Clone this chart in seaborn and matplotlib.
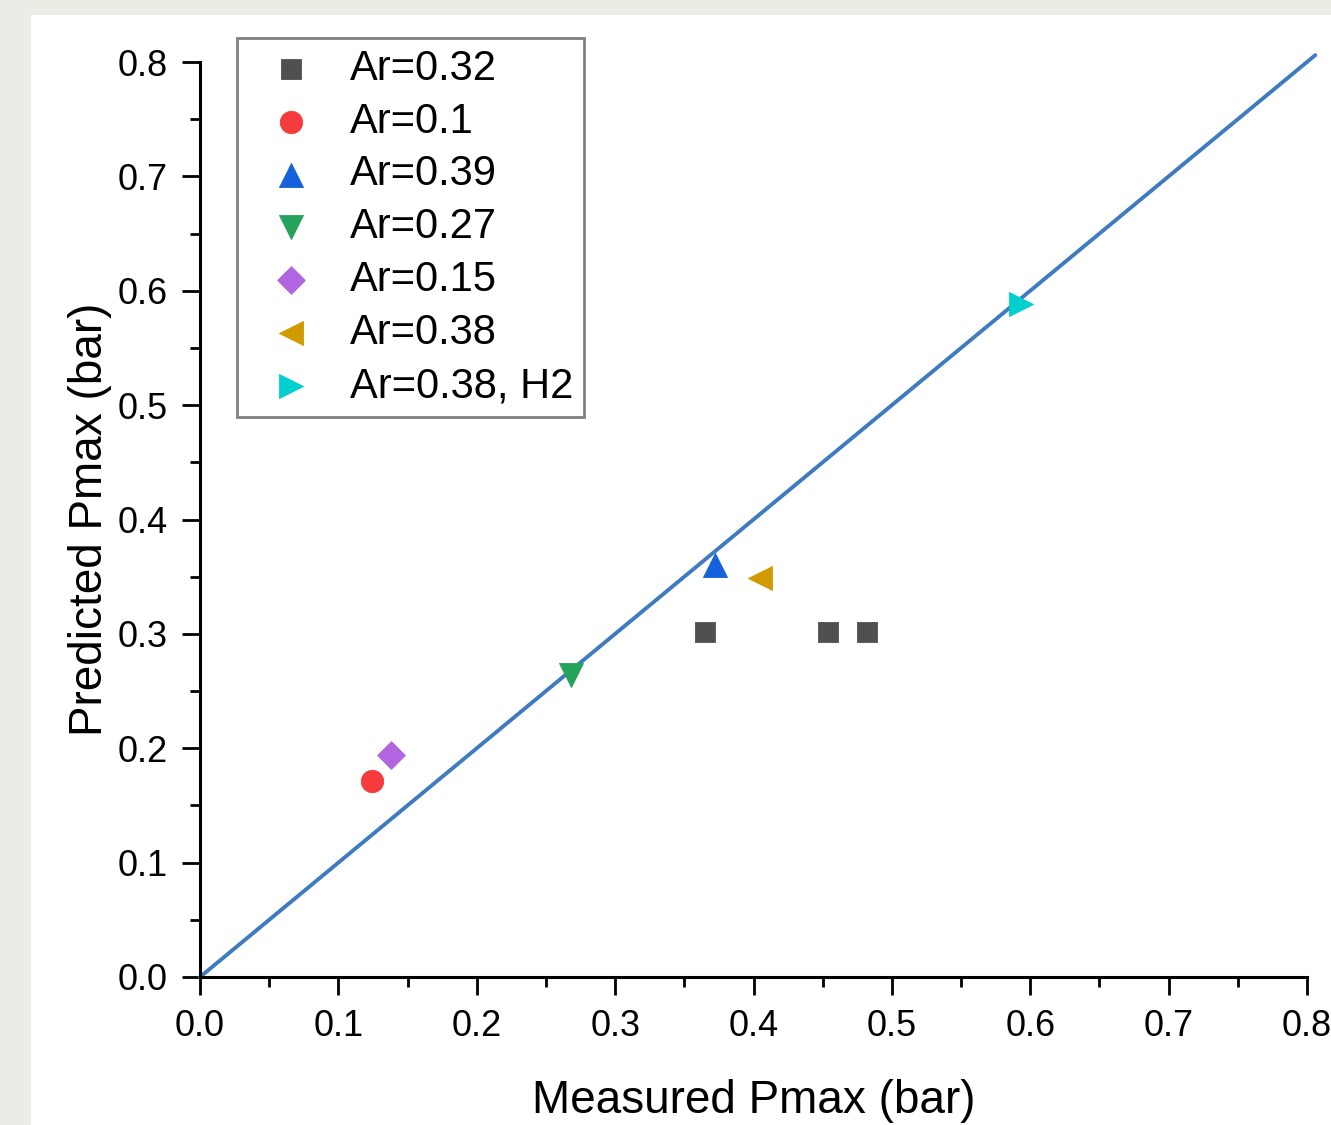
import matplotlib
matplotlib.use("Agg")
import matplotlib.pyplot as plt
from matplotlib.patches import Rectangle
from matplotlib.ticker import MultipleLocator
import seaborn as sns

# Measured vs predicted peak pressure per mixture
labels = ["Ar=0.32", "Ar=0.1", "Ar=0.39", "Ar=0.27", "Ar=0.15", "Ar=0.38", "Ar=0.38, H2"]
measured = [
    [0.365, 0.454, 0.482],
    [0.124],
    [0.372],
    [0.268],
    [0.138],
    [0.405],
    [0.593],
]
predicted = [
    [0.302, 0.302, 0.302],
    [0.171],
    [0.360],
    [0.264],
    [0.194],
    [0.349],
    [0.588],
]
diag = [0.0, 0.806]

markers = ["s", "o", "^", "v", "D", "<", ">"]
colors = ["#505050", "#f53b3b", "#1560dc", "#25a35a", "#b266e0", "#d09b00", "#00cfcf"]
sizes = [210, 260, 300, 300, 200, 300, 300]

sns.set_style("ticks")
plt.rcParams["font.family"] = ["Liberation Sans", "DejaVu Sans"]
plt.rcParams["text.color"] = "black"
plt.rcParams["axes.labelcolor"] = "black"

fig = plt.figure(figsize=(13.31, 11.25), dpi=100)
fig.patch.set_facecolor("#ecebe6")
panel = Rectangle((31 / 1331, 0), 1.0, 1 - 15 / 1125,
                  transform=fig.transFigure, facecolor="white",
                  edgecolor="none", zorder=-10)
fig.patches.append(panel)
ax = fig.add_axes([200 / 1331, 148 / 1125, 1107 / 1331, 915 / 1125])
ax.set_facecolor("none")

sns.lineplot(x=diag, y=diag, ax=ax, color="#3f7bc1", linewidth=2.8,
             clip_on=False, zorder=2)

for lab, xs, ys, m, c, s in zip(labels, measured, predicted, markers, colors, sizes):
    sns.scatterplot(x=xs, y=ys, ax=ax, marker=m, color=c, s=s, label=lab,
                    edgecolor=c, linewidth=0.6, zorder=3, clip_on=False)

ax.set_xlim(0, 0.8)
ax.set_ylim(0, 0.8)
ax.xaxis.set_major_locator(MultipleLocator(0.1))
ax.yaxis.set_major_locator(MultipleLocator(0.1))
ax.xaxis.set_minor_locator(MultipleLocator(0.05))
ax.yaxis.set_minor_locator(MultipleLocator(0.05))
ax.xaxis.set_major_formatter(lambda v, p: f"{v:.1f}")
ax.yaxis.set_major_formatter(lambda v, p: f"{v:.1f}")

for side in ["top", "right"]:
    ax.spines[side].set_visible(False)
for side in ["left", "bottom"]:
    ax.spines[side].set_linewidth(2.2)
    ax.spines[side].set_color("black")

ax.tick_params(axis="both", which="major", direction="out", length=13, width=2.0,
               labelsize=26, color="black", labelcolor="black")
ax.tick_params(axis="x", which="major", pad=10)
ax.tick_params(axis="y", which="major", pad=10)
ax.tick_params(axis="both", which="minor", direction="out", length=7, width=2.0,
               color="black")

ax.set_xlabel("Measured Pmax (bar)", fontsize=33, labelpad=25, color="black")
ax.set_ylabel("Predicted Pmax (bar)", fontsize=33, labelpad=4, color="black")

leg = ax.legend(loc="upper left", bbox_to_anchor=(0.033, 1.026), borderaxespad=0,
                fontsize=30, frameon=True, fancybox=False, framealpha=1,
                edgecolor="#808080", labelspacing=0.31, handletextpad=0.37,
                borderpad=0.25, handlelength=2.1, markerscale=1.0)
leg.get_frame().set_linewidth(2.0)

fig.savefig("out.png", dpi=100, facecolor=fig.get_facecolor())
